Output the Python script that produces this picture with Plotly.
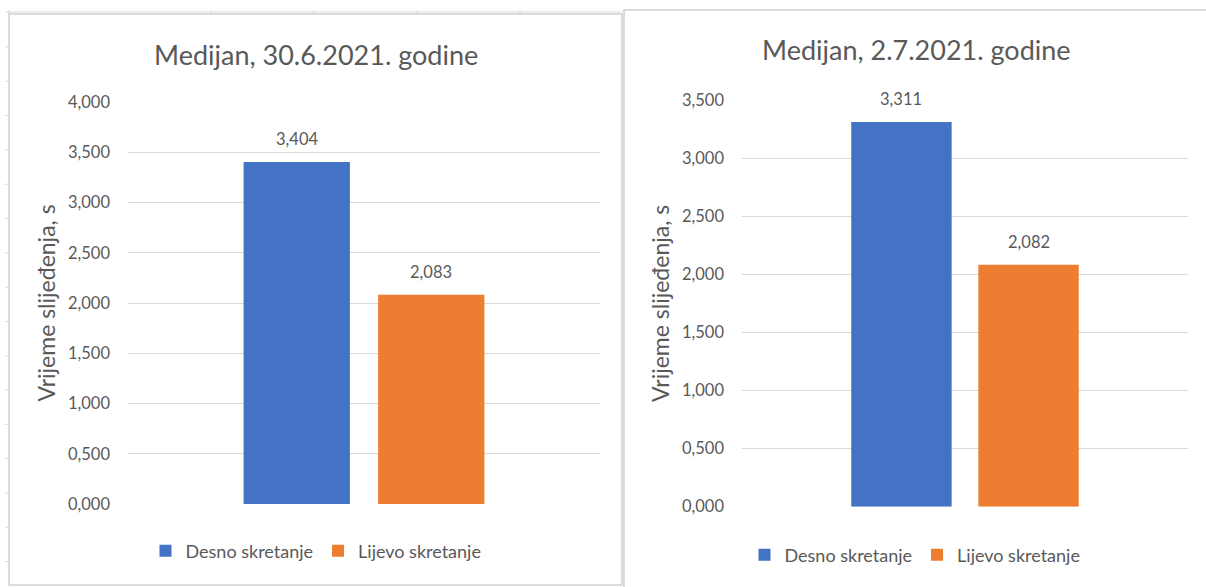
"""
Medijan vremena slijeđenja - dva Excel grafikona jedan pored drugog
"""
import plotly.graph_objects as go

W, H = 1206, 587

series_names = ["Desno skretanje", "Lijevo skretanje"]
series_colors = ["#4472C4", "#ED7D31"]
category = ["Medijan"]

titles = ["Medijan, 30.6.2021. godine", "Medijan, 2.7.2021. godine"]
values_left = [3.404, 2.083]
values_right = [3.311, 2.082]
y_max = [4.0, 3.5]
y_title = "Vrijeme slijeđenja, s"

FONT = "Lato, Noto Sans, sans-serif"
GREY = "#595959"
LINE = "#D9D9D9"
BARGAP = 0.43


def px_x(x):
    return x / W


def px_y(y):
    return 1 - y / H


# položaji područja grafikona u pikselima (lijevo, desno, gore, dolje)
plot_areas = [(128, 600, 102, 504), (742, 1188, 100, 506.7)]

fig = go.Figure()
annotations = []

for i, vals in enumerate([values_left, values_right]):
    xa = "x" if i == 0 else "x2"
    ya = "y" if i == 0 else "y2"
    leg = "legend" if i == 0 else "legend2"
    left, right, _, _ = plot_areas[i]
    half_slot = (right - left) * (1 - BARGAP) / 4
    for j, (name, color, v) in enumerate(zip(series_names, series_colors, vals)):
        fig.add_trace(go.Bar(
            x=category,
            y=[v],
            name=name,
            marker_color=color,
            marker_line_width=0,
            xaxis=xa,
            yaxis=ya,
            legend=leg,
            hoverinfo="skip",
        ))
        # oznaka vrijednosti iznad stupca
        annotations.append(dict(
            x=category[0], y=v, xref=xa, yref=ya,
            xshift=half_slot * (2 * j - 1), yshift=23,
            text=f"{v:.3f}".replace(".", ","),
            showarrow=False, xanchor="center", yanchor="middle",
            font=dict(size=16.5, color=GREY, family=FONT),
        ))

axis_common = dict(
    showticklabels=False,
    showgrid=False,
    zeroline=False,
    showline=False,
    automargin=False,
    fixedrange=True,
)
yaxis_common = dict(
    dtick=0.5,
    tickformat=".3f",
    showgrid=True,
    gridcolor=LINE,
    gridwidth=1,
    zeroline=False,
    showline=False,
    automargin=False,
    fixedrange=True,
    tickfont=dict(size=16.5, color=GREY, family=FONT),
    ticklabelstandoff=17,
    title=dict(text=y_title, font=dict(size=23, color=GREY, family=FONT), standoff=5),
)

annotations += [
    dict(text=titles[0], x=px_x(316), y=px_y(55), xref="paper", yref="paper",
         xanchor="center", yanchor="middle",
         showarrow=False, font=dict(size=27, color=GREY, family=FONT)),
    dict(text=titles[1], x=px_x(916), y=px_y(50), xref="paper", yref="paper",
         xanchor="center", yanchor="middle",
         showarrow=False, font=dict(size=27, color=GREY, family=FONT)),
]

shapes = [
    # okvir lijevog grafikona
    dict(type="rect", xref="paper", yref="paper",
         x0=px_x(9), x1=px_x(622), y0=px_y(585), y1=px_y(14),
         line=dict(color="#D0D0D0", width=1.5)),
    # okvir desnog grafikona
    dict(type="rect", xref="paper", yref="paper",
         x0=px_x(624), x1=px_x(1212), y0=px_y(595), y1=px_y(10),
         line=dict(color="#D0D0D0", width=1.5)),
    # linije tablice iza grafikona
    dict(type="line", xref="paper", yref="paper",
         x0=px_x(6), x1=px_x(622), y0=px_y(12), y1=px_y(12),
         line=dict(color=LINE, width=1)),
]
for xx in [9, 211, 314, 417, 520]:
    shapes.append(dict(type="line", xref="paper", yref="paper",
                       x0=px_x(xx), x1=px_x(xx), y0=px_y(15), y1=px_y(10),
                       line=dict(color=LINE, width=1)))
row = 47.0
while row < 580:
    shapes.append(dict(type="line", xref="paper", yref="paper",
                       x0=px_x(5), x1=px_x(9), y0=px_y(row), y1=px_y(row),
                       line=dict(color=LINE, width=1)))
    row += 34.3

fig.update_layout(
    width=W,
    height=H,
    margin=dict(l=0, r=0, t=0, b=0, autoexpand=False),
    paper_bgcolor="white",
    plot_bgcolor="white",
    separators=",.",
    barmode="group",
    bargap=BARGAP,
    bargroupgap=0.21,
    showlegend=True,
    hovermode=False,
    font=dict(family=FONT, color=GREY),
    xaxis=dict(domain=[px_x(plot_areas[0][0]), px_x(plot_areas[0][1])], anchor="y", **axis_common),
    yaxis=dict(domain=[px_y(plot_areas[0][3]), px_y(plot_areas[0][2])], range=[0, y_max[0]],
               anchor="x", **yaxis_common),
    xaxis2=dict(domain=[px_x(plot_areas[1][0]), px_x(plot_areas[1][1])], anchor="y2", **axis_common),
    yaxis2=dict(domain=[px_y(plot_areas[1][3]), px_y(plot_areas[1][2])], range=[0, y_max[1]],
                anchor="x2", **yaxis_common),
    legend=dict(
        orientation="h", x=px_x(316), xanchor="center", y=px_y(551), yanchor="middle",
        font=dict(size=18, color=GREY, family=FONT), itemwidth=30, tracegroupgap=0,
    ),
    legend2=dict(
        orientation="h", x=px_x(915), xanchor="center", y=px_y(555), yanchor="middle",
        font=dict(size=18, color=GREY, family=FONT), itemwidth=30, tracegroupgap=0,
    ),
    annotations=annotations,
    shapes=shapes,
)

fig.write_html("out.html", config={"displayModeBar": False},
               post_script="document.body.style.margin='0';")
